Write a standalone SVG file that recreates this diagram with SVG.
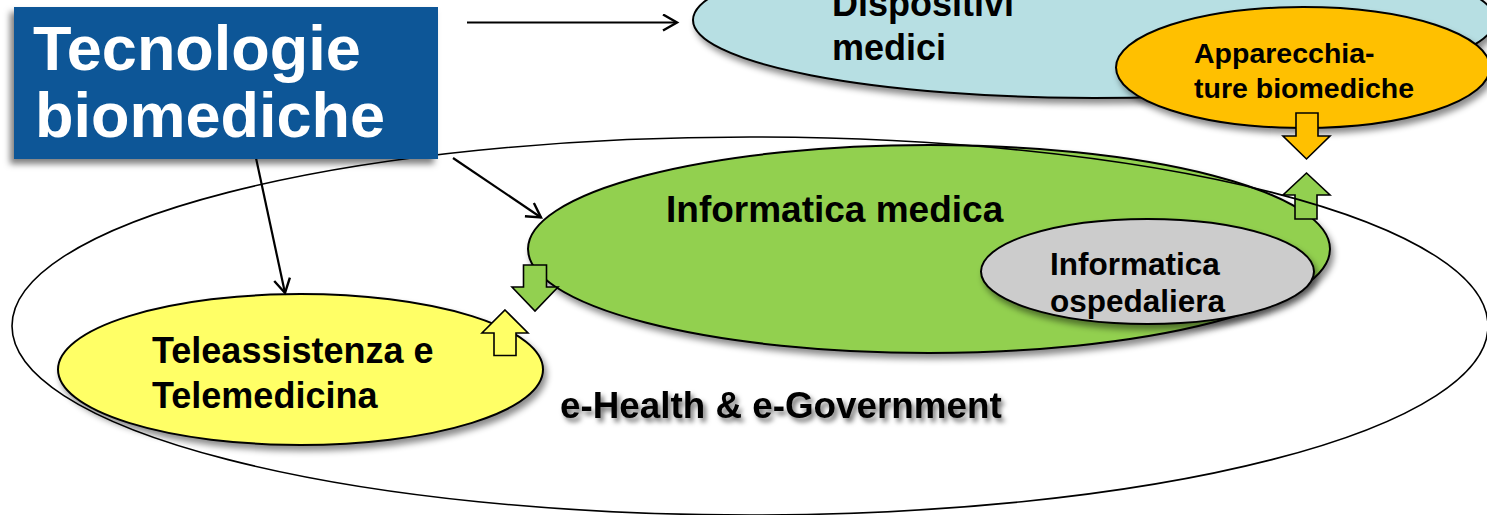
<svg xmlns="http://www.w3.org/2000/svg" width="1487" height="515" viewBox="0 0 1487 515">
<style>
.t{font-family:"Liberation Sans",Arial,sans-serif;font-weight:bold;fill:#000}
.node{stroke:#000;stroke-width:2}
.blk{stroke:#000;stroke-width:1.6;stroke-linejoin:miter}
.conn{stroke:#000;stroke-width:2.2;fill:none}
</style>
<defs>
<filter id="sh" x="-10%" y="-10%" width="125%" height="130%">
<feDropShadow dx="3" dy="5" stdDeviation="3" flood-color="#000" flood-opacity="0.45"/>
</filter>
<filter id="shBox" x="-10%" y="-10%" width="125%" height="130%">
<feDropShadow dx="-4" dy="5" stdDeviation="3" flood-color="#000" flood-opacity="0.5"/>
</filter>
<filter id="shTxt" x="-5%" y="-20%" width="115%" height="160%">
<feDropShadow dx="3" dy="4" stdDeviation="2.5" flood-color="#000" flood-opacity="0.55"/>
</filter>
<marker id="open" markerUnits="userSpaceOnUse" markerWidth="20" markerHeight="20" refX="15" refY="9" orient="auto" viewBox="0 0 20 20">
<path d="M1,1 L15,9 L1,17" fill="none" stroke="#000" stroke-width="2.4"/>
</marker>
</defs>
<rect width="1487" height="515" fill="#fff"/>

<g id="dispositivi-medici">
<ellipse class="node" cx="1094" cy="20" rx="401" ry="78" fill="#b7dfe3" filter="url(#sh)"/>
<text class="t" font-size="36" x="832" y="16">Dispositivi</text>
<text class="t" font-size="36" x="832" y="60">medici</text>
</g>

<g id="apparecchiature-biomediche">
<ellipse class="node" cx="1303" cy="67.5" rx="187" ry="60.5" fill="#ffc000" filter="url(#sh)"/>
<text class="t" font-size="28.5" x="1194" y="63">Apparecchia-</text>
<text class="t" font-size="28.5" x="1194" y="98">ture biomediche</text>
</g>

<g id="informatica-medica">
<ellipse class="node" cx="929" cy="249" rx="401" ry="104" fill="#92d050" filter="url(#sh)"/>
<text class="t" font-size="37" x="666" y="222">Informatica medica</text>
</g>

<g id="informatica-ospedaliera">
<ellipse class="node" cx="1147.5" cy="271.5" rx="166.5" ry="52.5" fill="#cccccc" filter="url(#sh)"/>
<text class="t" font-size="31.5" x="1050" y="275">Informatica</text>
<text class="t" font-size="31.5" x="1050" y="312">ospedaliera</text>
</g>

<g id="teleassistenza-telemedicina">
<ellipse class="node" cx="300.5" cy="369.5" rx="242.5" ry="75.5" fill="#ffff66" filter="url(#sh)"/>
<text class="t" font-size="36" x="152" y="363">Teleassistenza e</text>
<text class="t" font-size="36" x="152" y="408">Telemedicina</text>
</g>

<g id="block-arrows">
<path class="blk" fill="#ffc000" d="M1296,113 H1318 V136 H1330 L1306.5,159 L1283,136 H1296 Z"/>
<path class="blk" fill="#92d050" d="M1306.5,173 L1330,195 H1317 V219 H1295 V195 H1283 Z"/>
<path class="blk" fill="#92d050" d="M523.5,265 H546.5 V287 H558 L535,311 L512,287 H523.5 Z"/>
<path class="blk" fill="#ffff66" d="M505,310 L528,333 H516 V355.5 H494 V333 H482 Z"/>
</g>

<g id="e-health-e-government">
<ellipse cx="750" cy="326" rx="738" ry="189" fill="none" stroke="#000" stroke-width="1.6"/>
<text class="t" font-size="36.8" x="560" y="418" filter="url(#shTxt)">e-Health &amp; e-Government</text>
</g>

<g id="connectors">
<line class="conn" x1="467" y1="22.5" x2="677" y2="22.5" marker-end="url(#open)"/>
<line class="conn" x1="256" y1="158" x2="285" y2="293" marker-end="url(#open)"/>
<line class="conn" x1="453" y1="158" x2="541" y2="217.5" marker-end="url(#open)"/>
</g>

<g id="tecnologie-biomediche">
<rect x="14" y="7" width="424" height="152" fill="#0c5697" filter="url(#shBox)"/>
<text class="t" font-size="63" x="33" y="70" style="fill:#fff">Tecnologie</text>
<text class="t" font-size="63" x="35" y="137" style="fill:#fff">biomediche</text>
</g>
</svg>
